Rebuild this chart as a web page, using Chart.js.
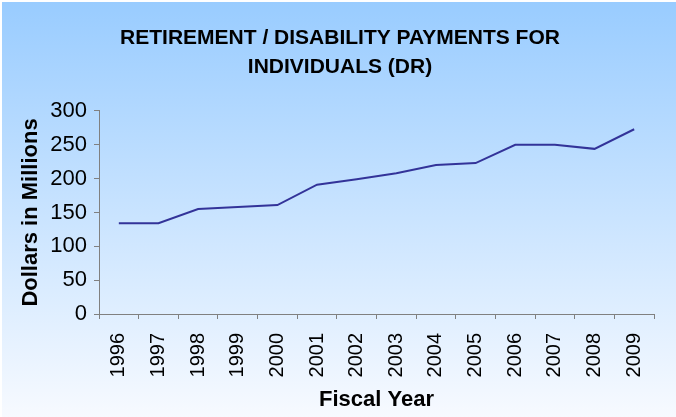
<!DOCTYPE html>
<html>
<head>
<meta charset="utf-8">
<title>Retirement / Disability Payments</title>
<script src="https://cdn.jsdelivr.net/npm/chart.js@4.4.0/dist/chart.umd.min.js"></script>
<style>
    html, body { margin: 0; padding: 0; background: #ffffff; }
    #wrap { width: 676px; height: 417px; position: relative; }
</style>
</head>
<body>
<div id="wrap"><canvas id="drChart"></canvas></div>
<script>
// Данные графика
const years = ['1996', '1997', '1998', '1999', '2000', '2001', '2002',
               '2003', '2004', '2005', '2006', '2007', '2008', '2009'];
const payments = [134, 134, 155, 158, 161, 191, 199, 208, 220, 223, 250, 250, 244, 273];
const titleLines = ['RETIREMENT / DISABILITY PAYMENTS FOR', 'INDIVIDUALS (DR)'];

const FONT = "'Liberation Sans', Arial, sans-serif";

// Фон с градиентом (голубой сверху -> почти белый снизу)
const backgroundPlugin = {
    id: 'gradientBackground',
    beforeDraw(chart) {
        const ctx = chart.ctx;
        const w = chart.width, h = chart.height;
        ctx.save();
        ctx.fillStyle = '#ffffff';
        ctx.fillRect(0, 0, w, h);
        const grad = ctx.createLinearGradient(0, 2, 0, h);
        grad.addColorStop(0, '#99ccff');
        grad.addColorStop(1, '#f7faff');
        ctx.fillStyle = grad;
        ctx.fillRect(2, 2, w - 2, h - 2);
        ctx.restore();
    }
};

new Chart(document.getElementById('drChart'), {
    type: 'line',
    data: {
        labels: years,
        datasets: [{
            data: payments,
            borderColor: '#333399',
            borderWidth: 2,
            pointRadius: 0,
            tension: 0,
            fill: false
        }]
    },
    options: {
        responsive: true,
        maintainAspectRatio: false,
        animation: false,
        // слева отступ побольше, чтобы заголовок встал по центру картинки
        layout: { padding: { top: 0, right: 22, bottom: 0, left: 26 } },
        plugins: {
            legend: { display: false },
            tooltip: { enabled: false },
            title: {
                display: true,
                text: titleLines,
                color: '#000000',
                font: { family: FONT, size: 21, weight: 'bold', lineHeight: 1.38 },
                padding: { top: 24, bottom: 29 }
            }
        },
        scales: {
            x: {
                offset: true,
                afterFit: s => { s.height = 103; },
                grid: {
                    display: true,
                    drawOnChartArea: false,
                    offset: true,
                    tickLength: 5,
                    color: '#808080'
                },
                border: { color: '#808080', width: 1 },
                ticks: {
                    color: '#000000',
                    minRotation: 90,
                    maxRotation: 90,
                    autoSkip: false,
                    padding: 14,
                    font: { family: FONT, size: 20 }
                },
                title: {
                    display: true,
                    text: 'Fiscal Year',
                    color: '#000000',
                    font: { family: FONT, size: 22, weight: 'bold' },
                    padding: { top: 0, bottom: 4 }
                }
            },
            y: {
                min: 0,
                max: 300,
                afterFit: s => { s.width = 73; },
                grid: {
                    display: true,
                    drawOnChartArea: false,
                    tickLength: 5,
                    color: '#808080'
                },
                border: { color: '#808080', width: 1 },
                ticks: {
                    stepSize: 50,
                    color: '#000000',
                    padding: 7,
                    font: { family: FONT, size: 22 }
                },
                title: {
                    display: true,
                    text: 'Dollars in Millions',
                    color: '#000000',
                    font: { family: FONT, size: 22, weight: 'bold' },
                    padding: { top: -8, bottom: 0 }
                }
            }
        }
    },
    plugins: [backgroundPlugin]
});
</script>
</body>
</html>
